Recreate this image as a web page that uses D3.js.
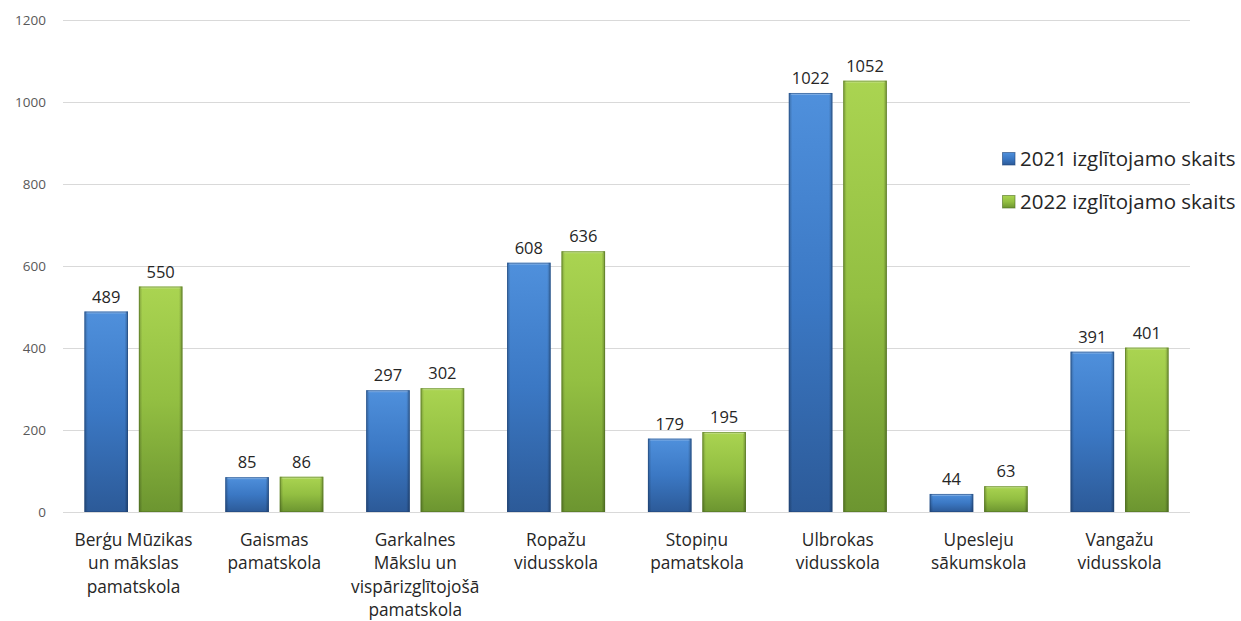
<!DOCTYPE html>
<html><head><meta charset="utf-8">
<script src="https://cdn.jsdelivr.net/npm/d3@7"></script>
<style>body{margin:0;background:#fff}svg{display:block}</style>
</head><body>
<script>
const categories = [
  ["Berģu Mūzikas","un mākslas","pamatskola"],
  ["Gaismas","pamatskola"],
  ["Garkalnes","Mākslu un","vispārizglītojošā","pamatskola"],
  ["Ropažu","vidusskola"],
  ["Stopiņu","pamatskola"],
  ["Ulbrokas","vidusskola"],
  ["Upesleju","sākumskola"],
  ["Vangažu","vidusskola"]
];
const seriesNames = ["2021 izglītojamo skaits","2022 izglītojamo skaits"];
const values2021 = [489,85,297,608,179,1022,44,391];
const values2022 = [550,86,302,636,195,1052,63,401];
const yTicks = [0,200,400,600,800,1000,1200];

const W=1241,H=621;
const svg=d3.select("body").append("svg").attr("width",W).attr("height",H);
const defs=svg.append("defs");
const pal=[{top:"#4f90dc",mid:"#3b78c4",bot:"#2c5a98",edge:"#1f4478"},{top:"#aad451",mid:"#93bf42",bot:"#6c9530",edge:"#4f6f22"}];
pal.forEach((p,i)=>{
  const g=defs.append("linearGradient").attr("id","v"+i).attr("x1",0).attr("y1",0).attr("x2",0).attr("y2",1);
  g.append("stop").attr("offset","0%").attr("stop-color",p.top);
  g.append("stop").attr("offset","50%").attr("stop-color",p.mid);
  g.append("stop").attr("offset","100%").attr("stop-color",p.bot);
  const h=defs.append("linearGradient").attr("id","h"+i).attr("x1",0).attr("y1",0).attr("x2",1).attr("y2",0);
  h.append("stop").attr("offset","0%").attr("stop-color","#000").attr("stop-opacity",0.25);
  h.append("stop").attr("offset","8%").attr("stop-color","#000").attr("stop-opacity",0.0);
  h.append("stop").attr("offset","92%").attr("stop-color","#000").attr("stop-opacity",0.0);
  h.append("stop").attr("offset","100%").attr("stop-color","#000").attr("stop-opacity",0.3);
});

const x0=d3.scaleBand().domain(d3.range(categories.length)).range([63,1190]).paddingInner(0).paddingOuter(0);
const x1=d3.scaleBand().domain([0,1]).range([0,98]).paddingInner(0.2).paddingOuter(0);
const y=d3.scaleLinear().domain([0,1200]).range([512,20]);
const FONT="'Open Sans',sans-serif";

// grid
svg.append("g").selectAll("line").data(yTicks).join("line")
  .attr("x1",63).attr("x2",1190).attr("y1",d=>y(d)+0.5).attr("y2",d=>y(d)+0.5)
  .attr("stroke","#d9d9d9").attr("stroke-width",1);
// y labels
svg.append("g").selectAll("text").data(yTicks).join("text")
  .attr("x",46).attr("y",d=>y(d)+5).attr("text-anchor","end")
  .attr("font-family",FONT).attr("font-size",13.5).attr("fill","#595959").text(d=>d);

const series=[values2021,values2022];
const bw=x1.bandwidth();
series.forEach((vals,s)=>{
  const g=svg.append("g");
  vals.forEach((v,i)=>{
    const xx=x0(i)+(x0.bandwidth()-98)/2+x1(s);
    const yy=y(v), hh=y(0)-y(v);
    g.append("rect").attr("x",xx).attr("y",yy).attr("width",bw).attr("height",hh).attr("fill",`url(#v${s})`);
    g.append("rect").attr("x",xx).attr("y",yy).attr("width",bw).attr("height",hh).attr("fill",`url(#h${s})`);
    g.append("rect").attr("x",xx+2).attr("y",yy).attr("width",bw-4).attr("height",2).attr("fill","#fff").attr("opacity",0.25);
    g.append("rect").attr("x",xx+0.5).attr("y",yy+0.5).attr("width",bw-1).attr("height",hh-1).attr("fill","none").attr("stroke",pal[s].edge).attr("stroke-opacity",0.5);
    svg.append("text").attr("x",xx+bw/2).attr("y",yy-9).attr("text-anchor","middle")
      .attr("font-family",FONT).attr("font-size",16.5).attr("fill","#262626").text(v);
  });
});

// category labels
const cl=svg.append("g");
categories.forEach((lines,i)=>{
  const cx=x0(i)+x0.bandwidth()/2;
  const t=cl.append("text").attr("x",cx).attr("y",546).attr("text-anchor","middle")
    .attr("font-family",FONT).attr("font-size",17.3).attr("fill","#262626");
  lines.forEach((ln,j)=>t.append("tspan").attr("x",cx).attr("y",546+j*23.3).text(ln));
});

// legend
const lg=svg.append("g");
seriesNames.forEach((n,i)=>{
  const yy=166+i*43;
  lg.append("rect").attr("x",1002.5).attr("y",yy-13.5).attr("width",12.5).attr("height",12.5).attr("fill",`url(#v${i})`).attr("stroke",pal[i].edge).attr("stroke-opacity",0.6);
  lg.append("text").attr("x",1020).attr("y",yy).attr("font-family",FONT).attr("font-size",20.5).attr("fill","#262626").text(n);
});
</script>
</body></html>
